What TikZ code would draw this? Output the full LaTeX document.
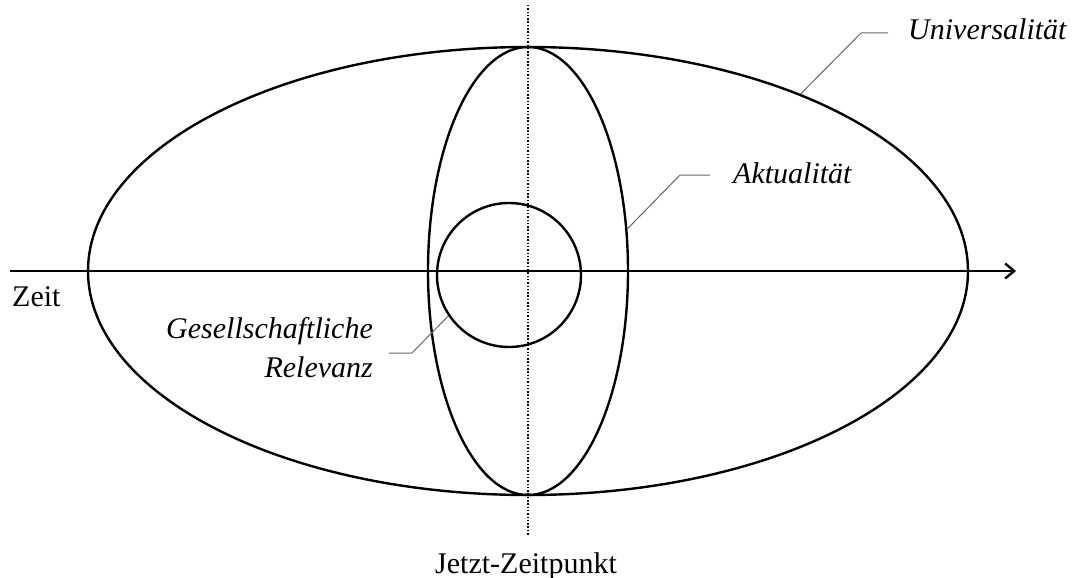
\documentclass[tikz,border=0pt]{standalone}
\usepackage{fontspec}
\setmainfont{Liberation Serif}
\usetikzlibrary{shapes.geometric,arrows.meta}
\begin{document}
\begin{tikzpicture}[x=1pt,y=-1pt,
  shape line/.style={line width=2.4pt,black},
  leader/.style={line width=1pt,black!60},
  lbl/.style={font=\fontsize{30}{39}\selectfont\itshape,inner sep=0pt},
  plain/.style={font=\fontsize{30}{39}\selectfont,inner sep=0pt}]
\useasboundingbox (0,0) rectangle (1072,578);
% shapes
\node[draw,shape line,ellipse,inner sep=0pt,minimum width=880pt,minimum height=448pt] (big) at (528,271) {};
\node[draw,shape line,ellipse,inner sep=0pt,minimum width=200pt,minimum height=448pt] (mid) at (528,271) {};
\node[draw,shape line,circle,inner sep=0pt,minimum size=144pt] (circ) at (509,275) {};
% axis
\coordinate (axL) at (10,271);
\coordinate (axR) at (1016,271);
\draw[line width=2.4pt,-{Straight Barb[length=9pt,width=15pt,line width=2.4pt]}] (axL) -- (axR);
% vertical dotted line
\coordinate (vT) at (528,5);
\coordinate (vB) at (528,535);
\draw[line width=1.4pt,dash pattern=on 1.5pt off 1.8pt] (vT) -- (vB);
% labels
\node[lbl,anchor=base west] (uni) at (908,40) {Universalität};
\node[lbl,anchor=base west] (akt) at (733,183) {Aktualität};
\node[lbl,anchor=base east,align=right] (ges) at (373,377) {Gesellschaftliche\\Relevanz};
\node[plain,anchor=base west] (zeit) at (12,306) {Zeit};
\node[plain,anchor=base] (jetzt) at (526,573) {Jetzt-Zeitpunkt};
% leaders
\coordinate (u1) at (861,33);
\coordinate (u2) at (888,33);
\draw[leader] (big.33.2) -- (u1) -- (u2);
\coordinate (a1) at (680,175);
\coordinate (a2) at (710,175);
\draw[leader] (mid.23.7) -- (a1) -- (a2);
\coordinate (g1) at (412,353);
\coordinate (g2) at (389,353);
\draw[leader] (circ.214) -- (g1) -- (g2);
\end{tikzpicture}
\end{document}
